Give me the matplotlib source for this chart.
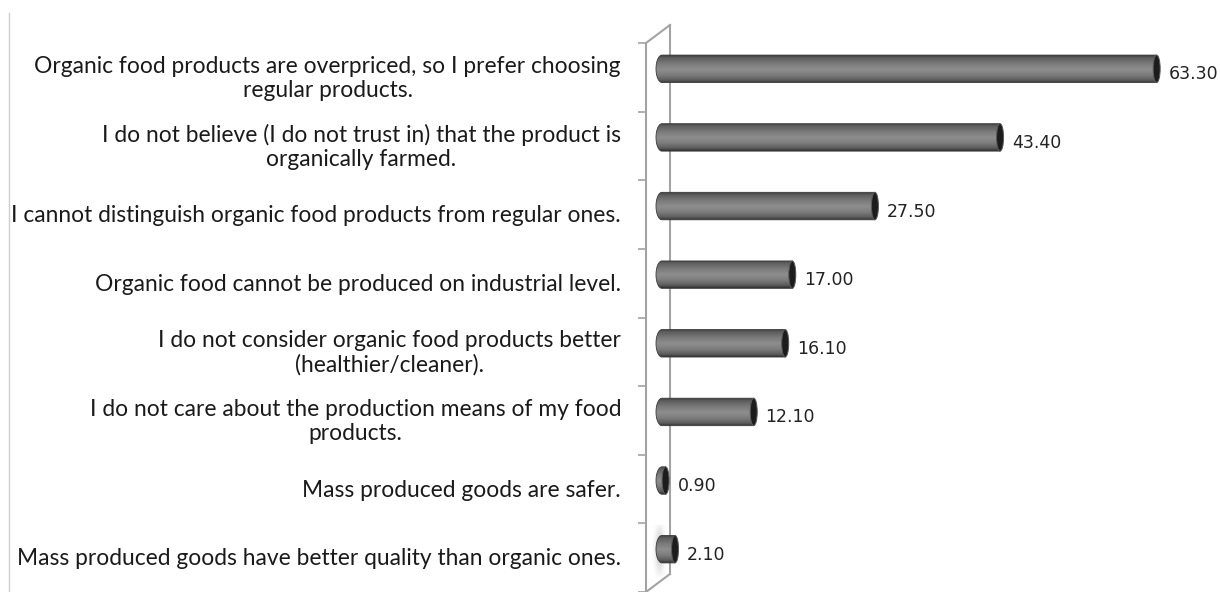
"""
Reasons for not buying organic food — horizontal cylinder bar chart.
"""

import matplotlib
matplotlib.use("Agg")
import matplotlib.pyplot as plt
import matplotlib.transforms as mtransforms
from matplotlib.colors import LinearSegmentedColormap
from matplotlib.lines import Line2D
from matplotlib.patches import Ellipse, Polygon
import numpy as np


# ---------------------------------------------------------------------------
# Data
# ---------------------------------------------------------------------------

categories = [
    "Organic food products are overpriced, so I prefer choosing\nregular products.",
    "I do not believe (I do not trust in) that the product is\norganically farmed.",
    "I cannot distinguish organic food products from regular ones.",
    "Organic food cannot be produced on industrial level.",
    "I do not consider organic food products better\n(healthier/cleaner).",
    "I do not care about the production means of my food\nproducts.",
    "Mass produced goods are safer.",
    "Mass produced goods have better quality than organic ones.",
]
values = [63.30, 43.40, 27.50, 17.00, 16.10, 12.10, 0.90, 2.10]


# ---------------------------------------------------------------------------
# Layout (pixels of the 1220 x 592 canvas)
# ---------------------------------------------------------------------------

W, H = 1220, 592
WALL_FRONT_X, WALL_BACK_X = 646, 670
AX_TOP, AX_BOTTOM = 43, 592
ZERO_X = 662          # pixel where value 0 sits
PX_PER_UNIT = 7.87
BAR_LIFT = 8.5 / 68.6  # bars sit a little above the tick midpoint (3-D depth)

C_WALL = "#a3a3a3"
C_TEXT = "#1a1a1a"

bar_cmap = LinearSegmentedColormap.from_list(
    "cyl",
    [(0.0, "#353535"), (0.08, "#5a5a5a"), (0.3, "#7a7a7a"), (0.52, "#8e8e8e"),
     (0.72, "#7c7c7c"), (0.9, "#5c5c5c"), (1.0, "#303030")],
)


def fig_xy(x, y):
    return x / W, 1 - y / H


fig = plt.figure(figsize=(W / 100, H / 100), dpi=100)
fig.patch.set_facecolor("white")

ax = fig.add_axes([WALL_FRONT_X / W, 1 - AX_BOTTOM / H,
                   (W - WALL_FRONT_X) / W, (AX_BOTTOM - AX_TOP) / H])
ax.set_facecolor("none")

n = len(categories)
xmin = -(ZERO_X - WALL_FRONT_X) / PX_PER_UNIT
xmax = xmin + (W - WALL_FRONT_X) / PX_PER_UNIT

bar_h = 0.4
rx_left = 6 / PX_PER_UNIT
rx_right = 3.5 / PX_PER_UNIT
grad = np.linspace(0, 1, 128)[:, None]

# soft smudge that the last bar leaves on the side wall
yy, xx = np.mgrid[0:1:60j, 0:1:30j]
smudge = np.exp(-((xx - 0.55) / 0.3) ** 2) * np.clip(1 - np.abs(yy - 0.45) / 0.55, 0, 1)
smudge_rgba = np.zeros(smudge.shape + (4,))
smudge_rgba[..., :3] = 0.55
smudge_rgba[..., 3] = smudge * 0.55
yl = (n - 1) - BAR_LIFT
ax.imshow(smudge_rgba, aspect="auto", origin="upper", interpolation="bilinear",
          extent=(-1.3, 0.4, yl + 0.45, yl - 0.35), zorder=1)

for i, v in enumerate(values):
    yc = i - BAR_LIFT
    top, bot = yc - bar_h / 2, yc + bar_h / 2
    body_end = v - rx_right
    t = np.linspace(np.pi / 2, 3 * np.pi / 2, 40)
    arc = np.column_stack([rx_left * np.cos(t), yc - (bar_h / 2) * np.sin(t)])
    pts = np.vstack([[body_end, top], arc, [body_end, bot]])
    outline = Polygon(pts, closed=True, facecolor="none",
                      edgecolor="#3a3a3a", linewidth=0.6, zorder=3)
    ax.add_patch(outline)
    img = ax.imshow(grad, cmap=bar_cmap, aspect="auto", origin="upper",
                    extent=(-rx_left, body_end, bot, top), zorder=2,
                    interpolation="bilinear")
    img.set_clip_path(outline)
    cap = Ellipse((body_end, yc), 2 * rx_right, bar_h,
                  facecolor="#1c1c1c", edgecolor="#5a5a5a", linewidth=0.7, zorder=4)
    ax.add_patch(cap)

    ax.annotate(f"{v:.2f}", xy=(v, yc), xytext=(6, -4), textcoords="offset points",
                ha="left", va="center", fontsize=12.5, color="#222222",
                family="DejaVu Sans")

ax.set_xlim(xmin, xmax)
ax.set_ylim(n - 0.5, -0.5)

# category labels, right aligned left of the wall
label_tf = mtransforms.blended_transform_factory(ax.transAxes, ax.transData) + \
    mtransforms.ScaledTranslation(0, -1 / 100, fig.dpi_scale_trans)
label_x = (621 - WALL_FRONT_X) / (W - WALL_FRONT_X)
for i, lab in enumerate(categories):
    ax.text(label_x, i, lab, transform=label_tf, ha="right", va="center",
            multialignment="center", fontsize=16.4, color=C_TEXT,
            family=["Lato", "DejaVu Sans"], linespacing=1.2)

# axis: front wall line with boundary ticks
for side in ["top", "right", "bottom"]:
    ax.spines[side].set_visible(False)
ax.spines["left"].set_color(C_WALL)
ax.spines["left"].set_linewidth(1.5)
ax.set_xticks([])
ax.set_yticks(np.arange(-0.5, n, 1.0))
ax.set_yticklabels([])
ax.tick_params(axis="y", length=5.8, width=1.2, color=C_WALL, direction="out")

# back wall and its diagonals (behind the bars)
wall_lines = [
    [(WALL_BACK_X, 25), (WALL_BACK_X, 574)],
    [(WALL_FRONT_X, AX_TOP), (WALL_BACK_X, 25)],
    [(WALL_FRONT_X, AX_BOTTOM), (WALL_BACK_X, 574)],
]
for (x1, y1), (x2, y2) in wall_lines:
    a, b = fig_xy(x1, y1), fig_xy(x2, y2)
    fig.add_artist(Line2D([a[0], b[0]], [a[1], b[1]], color=C_WALL,
                          linewidth=1.5, zorder=-1))

# faint chart border on the left
a, b = fig_xy(9, 13), fig_xy(9, 592)
fig.add_artist(Line2D([a[0], b[0]], [a[1], b[1]], color="#cfcfcf", linewidth=1.0))

fig.savefig("out.png", dpi=100)
